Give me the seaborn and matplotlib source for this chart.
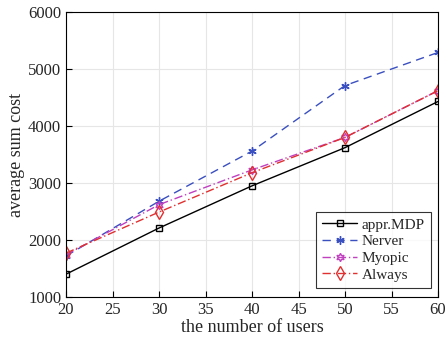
import pandas as pd
import matplotlib
matplotlib.use('Agg')
import matplotlib.pyplot as plt
import seaborn as sns

users = [20, 30, 40, 50, 60]
appr_mdp = [1400, 2210, 2950, 3620, 4430]
nerver = [1720, 2680, 3560, 4710, 5290]
myopic = [1740, 2620, 3230, 3800, 4620]
always = [1770, 2490, 3180, 3800, 4620]

df = pd.DataFrame({'users': users, 'appr.MDP': appr_mdp, 'Nerver': nerver,
                   'Myopic': myopic, 'Always': always})
df = df.melt(id_vars='users', var_name='method', value_name='cost')

sns.set_style('whitegrid')
plt.rcParams['font.family'] = ['Liberation Serif', 'DejaVu Serif']

fig = plt.figure(figsize=(4.45, 3.5), dpi=100)
ax = fig.add_axes([66 / 445, 53 / 350, 372 / 445, 285 / 350])

styles = {
    'appr.MDP': dict(color='black', ls='-', marker='s', ms=5),
    'Nerver': dict(color='#3a4fc0', ls=(0, (6, 4)), marker=(6, 2, 0), ms=6),
    'Myopic': dict(color='#c040c0', ls=(0, (6, 2, 1, 2)), marker=(6, 1, 0), ms=6),
    'Always': dict(color='#e03030', ls=(0, (6, 2, 1, 2)), marker='d', ms=7),
}
for name, st in styles.items():
    sub = df[df['method'] == name]
    sns.lineplot(data=sub, x='users', y='cost', ax=ax, label=name,
                 color=st['color'], linestyle=st['ls'], marker=st['marker'],
                 markersize=st['ms'], markerfacecolor='none',
                 markeredgecolor=st['color'], markeredgewidth=1, linewidth=1)

ax.set_xlim(20, 60)
ax.set_ylim(1000, 6000)
ax.set_xticks(range(20, 61, 5))
ax.set_yticks(range(1000, 6001, 1000))
ax.grid(True, color='#e6e6e6', linewidth=0.8)
for s in ax.spines.values():
    s.set_color('black')
    s.set_linewidth(0.8)
ax.tick_params(direction='in', length=4, labelsize=12, color='black',
               top=False, right=False, bottom=True, left=True)
ax.set_xlabel('the number of users', fontsize=13, labelpad=1)
ax.set_ylabel('average sum cost', fontsize=13, labelpad=2)

leg = ax.legend(loc='lower right', bbox_to_anchor=(0.981, 0.032), fontsize=11,
                frameon=True, fancybox=False, edgecolor='black', handlelength=2.3,
                borderaxespad=0, labelspacing=0.2, handletextpad=0.3,
                borderpad=0.4)
leg.get_frame().set_linewidth(0.8)

fig.savefig('out.png', dpi=100)
